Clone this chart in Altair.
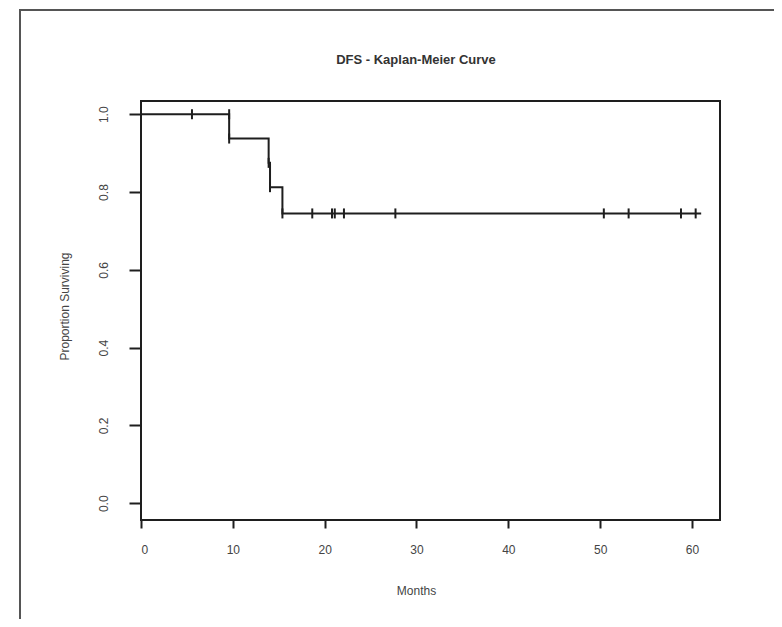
import altair as alt
import pandas as pd

# Kaplan-Meier step curve (time in months, proportion surviving)
step_time = [0.0, 9.6, 13.9, 14.05, 15.4, 61.0]
step_surv = [1.0, 0.9375, 0.875, 0.8125, 0.745, 0.745]

# Censoring marks
cens_time = [5.55, 9.6, 9.6, 13.9, 14.05, 15.4, 18.65, 20.8, 21.1, 22.1, 27.7, 50.4, 53.1, 58.8, 60.4]
cens_surv = [1.0, 1.0, 0.9375, 0.875, 0.8125, 0.745, 0.745, 0.745, 0.745, 0.745, 0.745, 0.745, 0.745, 0.745, 0.745]

x_ticks = [0, 10, 20, 30, 40, 50, 60]
y_ticks = [0.0, 0.2, 0.4, 0.6, 0.8, 1.0]

title_text = ["DFS - Kaplan-Meier Curve"]

steps = pd.DataFrame({"t": step_time, "s": step_surv})
cens = pd.DataFrame({"t": cens_time, "s": cens_surv})

FONT = "Liberation Sans"
INK = "#1e1e1e"

xscale = alt.Scale(domain=[0, 63.05], nice=False, zero=False)
yscale = alt.Scale(domain=[-0.043, 1.034], nice=False, zero=False)

xaxis = alt.Axis(
    values=x_ticks, format="d", grid=False, domain=False,
    tickSize=8, tickWidth=2, tickColor=INK,
    labelFont=FONT, labelFontSize=12, labelColor="#444", labelPadding=16,
    title="Months", titleFont=FONT, titleFontSize=12, titleFontWeight="normal",
    titleColor="#444", titleX=275, titleY=70, titleBaseline="middle",
)
yaxis = alt.Axis(
    values=y_ticks, format=".1f", grid=False, domain=False,
    tickSize=12, tickWidth=2, tickColor=INK,
    labelFont=FONT, labelFontSize=12, labelColor="#444", labelPadding=19,
    labelAngle=270, labelAlign="center", labelBaseline="bottom",
    title="Proportion Surviving", titleFont=FONT, titleFontSize=12,
    titleFontWeight="normal", titleColor="#444", titleAngle=270,
    titleX=-77, titleY=205, titleBaseline="middle", titleAlign="center",
)

line = alt.Chart(steps).mark_line(
    interpolate="step-after", color=INK, strokeWidth=2
).encode(
    x=alt.X("t:Q", scale=xscale, axis=xaxis),
    y=alt.Y("s:Q", scale=yscale, axis=yaxis),
)

ticks = alt.Chart(cens).mark_point(
    shape="M0,-1L0,1", size=100, filled=False, color=INK, strokeWidth=2, opacity=1
).encode(
    x=alt.X("t:Q", scale=xscale),
    y=alt.Y("s:Q", scale=yscale),
)

frame = alt.Chart(pd.DataFrame({"k": [0]})).mark_rect(
    fill=None, stroke="#555", strokeWidth=2
).encode(
    x=alt.value(-121), x2=alt.value(640), y=alt.value(-91), y2=alt.value(560)
)

title = alt.Chart(pd.DataFrame({"txt": title_text})).mark_text(
    font=FONT, fontSize=13, fontWeight="bold", color="#333",
    align="center", baseline="middle"
).encode(
    text="txt:N", x=alt.value(275), y=alt.value(-41)
)

chart = alt.layer(frame, line, ticks, title).properties(
    width=579,
    height=419,
    autosize=alt.AutoSizeParams(type="none"),
    padding={"left": 133, "top": 93, "right": 54, "bottom": 99},
).configure(
    background="white",
    view=alt.ViewConfig(stroke=INK, strokeWidth=2),
)

chart.save("out.html", embed_options={"renderer": "svg", "actions": False})
